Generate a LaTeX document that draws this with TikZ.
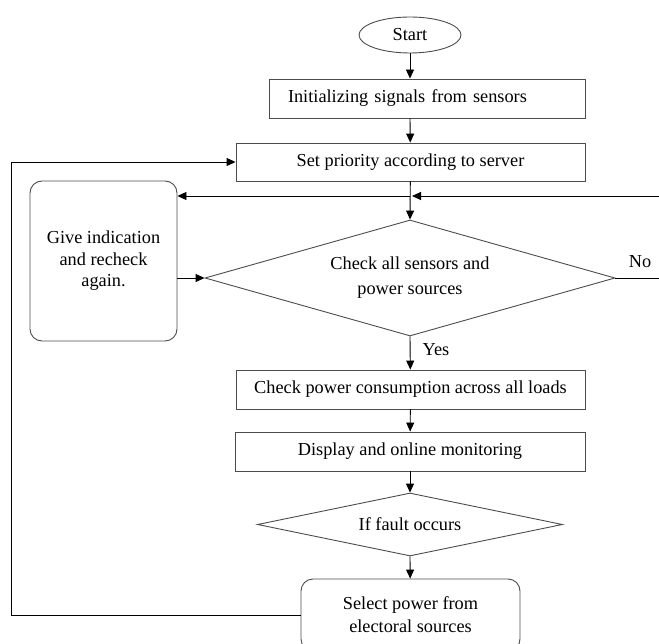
\documentclass[tikz,border=0pt]{standalone}
\usepackage{xcolor}
\usepackage{fontspec}
\setmainfont{Liberation Serif}
\usepackage{tikz}
\usetikzlibrary{shapes, positioning, calc, arrows.meta}
\definecolor{boxgray}{rgb}{0.3, 0.3, 0.3}

\begin{document}
\begin{tikzpicture}[x=1pt, y=1pt,
	every node/.style={font=\fontsize{18.3}{21.5}\selectfont, text=black},
	procbox/.style={draw=boxgray, line width=0.9pt, rectangle, inner sep=0pt},
	roundbox/.style={draw=boxgray, line width=0.9pt, rectangle, rounded corners=12pt, inner sep=0pt, align=center},
	decide/.style={draw=boxgray, line width=0.9pt, diamond, inner sep=0pt, align=center},
	arr/.style={-{Triangle[length=9pt, width=8pt]}, line width=0.9pt, black},
	link/.style={line width=0.9pt, black}]
\useasboundingbox (0,0) rectangle (659,-644);

\node[draw=boxgray, line width=0.9pt, ellipse, minimum width=102pt, minimum height=36pt, inner sep=0pt] (start) at (410,-35) {Start};
\node[procbox, minimum width=316pt, minimum height=39pt, text width=278pt, inner xsep=19pt, align=left] (init) at (427,-98.5) {Initializing signals from sensors};
\node[procbox, minimum width=349pt, minimum height=38pt] (prio) at (410.5,-162) {Set priority according to server};
\node[decide, aspect=3.53, minimum width=410pt, minimum height=116pt, font=\fontsize{18.3}{25}\selectfont] (check) at (410,-278) {Check all sensors and\\power sources};
\node[roundbox, minimum width=147pt, minimum height=160pt] (give) at (103.5,-261) {Give indication\\and recheck\\again.};
\node[procbox, minimum width=349pt, minimum height=39pt] (power) at (410.5,-389.5) {Check power consumption across all loads};
\node[procbox, minimum width=350pt, minimum height=39pt] (disp) at (410,-451.5) {Display and online monitoring};
\node[decide, aspect=4.84, minimum width=305pt, minimum height=63pt] (fault) at (410,-524.5) {If fault occurs};
\node[roundbox, minimum width=219pt, minimum height=72pt, font=\fontsize{18.3}{23}\selectfont] (select) at (410.5,-615) {Select power from\\electoral sources};

\node (yes) at (436,-350) {Yes};
\node (no) at (640,-262) {No};

\coordinate (merge) at (410,-196);
\coordinate (noR) at (660,-278);
\coordinate (backR) at (660,-196);
\coordinate (loopL) at (11,-615);

% main flow
\draw[arr] (start) -- (start |- init.north);
\draw[arr] (start |- init.south) -- (prio);
\draw[arr] (prio) -- (check.north);
\draw[arr] (check.south) -- (power);
\draw[arr] (power) -- (disp);
\draw[arr] (disp) -- (fault.north);
\draw[arr] (fault.south) -- (select);

% No branch back to the check
\draw[link] (check.east) -- (noR) -- (backR);
\draw[arr] (backR) -- ($(merge)+(2,0)$);
\draw[arr] (merge) -- (give.east |- merge);
\draw[arr] (check.west -| give.east) -- (check.west);

% fault loop back to priority
\draw[arr] (select.west) -- (loopL) |- (prio.west);

\end{tikzpicture}
\end{document}
